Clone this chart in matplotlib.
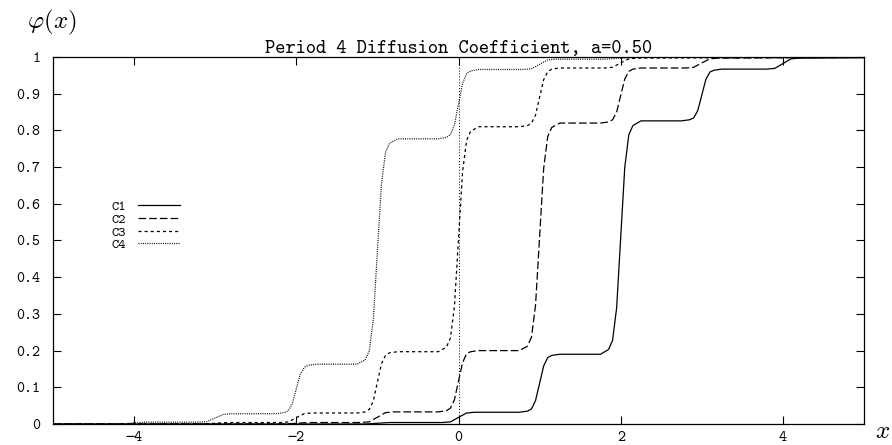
import matplotlib
matplotlib.use('Agg')
import matplotlib.pyplot as plt
from matplotlib.ticker import FormatStrFormatter, MultipleLocator

plt.rcParams['font.family'] = ['cmtt10', 'DejaVu Sans Mono']
plt.rcParams['mathtext.fontset'] = 'cm'
plt.rcParams['lines.scale_dashes'] = False
plt.rcParams['axes.formatter.use_mathtext'] = False

title = 'Period 4 Diffusion Coefficient, a=0.50'
labels = ['C1', 'C2', 'C3', 'C4']

# phi(x) for each diffusion coefficient
c1_x = [-5, -1.15, -1.0, -0.85, -0.2, -0.1, 0.0, 0.1, 0.2,
        0.75, 0.85, 0.9, 0.95, 1.0, 1.05, 1.1, 1.15, 1.25,
        1.75, 1.85, 1.9, 1.95, 2.0, 2.05, 2.1, 2.15, 2.25,
        2.75, 2.85, 2.9, 2.95, 3.0, 3.05, 3.1, 3.15, 3.25,
        3.8, 3.9, 4.0, 4.1, 4.2, 5]
c1_y = [0.0, 0.0, 0.002, 0.004, 0.004, 0.0057, 0.018, 0.030, 0.032,
        0.032, 0.035, 0.041, 0.064, 0.111, 0.158, 0.181, 0.187, 0.190,
        0.190, 0.203, 0.228, 0.317, 0.508, 0.699, 0.788, 0.813, 0.826,
        0.826, 0.829, 0.834, 0.854, 0.896, 0.939, 0.959, 0.964, 0.967,
        0.967, 0.969, 0.982, 0.995, 0.997, 0.998]

c2_x = [-5, -2.15, -2.0, -1.85, -1.2, -1.1, -1.0, -0.9, -0.8,
        -0.25, -0.15, -0.1, -0.05, 0.0, 0.05, 0.1, 0.15, 0.25,
        0.75, 0.85, 0.9, 0.95, 1.0, 1.05, 1.1, 1.15, 1.25,
        1.75, 1.85, 1.9, 1.95, 2.0, 2.05, 2.1, 2.15, 2.25,
        2.8, 2.9, 3.0, 3.1, 3.2, 5]
c2_y = [0.0, 0.0, 0.002, 0.004, 0.004, 0.006, 0.0185, 0.031, 0.033,
        0.033, 0.036, 0.043, 0.066, 0.117, 0.167, 0.192, 0.197, 0.200,
        0.200, 0.212, 0.237, 0.324, 0.510, 0.696, 0.783, 0.808, 0.820,
        0.820, 0.823, 0.829, 0.850, 0.895, 0.940, 0.961, 0.967, 0.970,
        0.970, 0.972, 0.984, 0.995, 0.997, 0.999]

c3_x = [-5, -3.15, -3.0, -2.85, -2.2, -2.1, -2.0, -1.9, -1.8,
        -1.25, -1.15, -1.1, -1.05, -1.0, -0.95, -0.9, -0.85, -0.75,
        -0.25, -0.15, -0.1, -0.05, 0.0, 0.05, 0.1, 0.15, 0.25,
        0.75, 0.85, 0.9, 0.95, 1.0, 1.05, 1.1, 1.15, 1.25,
        1.8, 1.9, 2.0, 2.1, 2.2, 5]
c3_y = [0.0, 0.0, 0.002, 0.004, 0.004, 0.0056, 0.017, 0.0285, 0.030,
        0.030, 0.033, 0.040, 0.063, 0.114, 0.164, 0.187, 0.194, 0.197,
        0.197, 0.209, 0.234, 0.320, 0.504, 0.687, 0.773, 0.798, 0.810,
        0.810, 0.813, 0.820, 0.842, 0.890, 0.938, 0.960, 0.967, 0.970,
        0.970, 0.972, 0.984, 0.995, 0.997, 0.999]

c4_x = [-5, -4.15, -4.0, -3.85, -3.2, -3.1, -3.0, -2.9, -2.8,
        -2.25, -2.15, -2.1, -2.05, -2.0, -1.95, -1.9, -1.85, -1.75,
        -1.25, -1.15, -1.1, -1.05, -1.0, -0.95, -0.9, -0.85, -0.75,
        -0.25, -0.15, -0.1, -0.05, 0.0, 0.05, 0.1, 0.15, 0.25,
        0.8, 0.9, 1.0, 1.1, 1.2, 1.8, 2.0, 2.2, 5]
c4_y = [0.0, 0.0, 0.003, 0.005, 0.005, 0.0065, 0.0165, 0.026, 0.028,
        0.028, 0.031, 0.036, 0.055, 0.096, 0.136, 0.155, 0.160, 0.163,
        0.163, 0.175, 0.200, 0.286, 0.470, 0.654, 0.740, 0.765, 0.777,
        0.777, 0.781, 0.788, 0.815, 0.872, 0.928, 0.955, 0.962, 0.966,
        0.966, 0.968, 0.980, 0.992, 0.994, 0.994, 0.997, 0.999, 0.999]

fig = plt.figure(figsize=(8.92, 4.45), dpi=100)
ax = fig.add_axes([53 / 892, 21 / 445, 811 / 892, 367 / 445])

lw = 0.9
ax.plot(c1_x, c1_y, color='black', lw=lw, label=labels[0])
ax.plot(c2_x, c2_y, color='black', lw=lw, dashes=(5.5, 2.2), label=labels[1])
ax.plot(c3_x, c3_y, color='black', lw=lw, dashes=(2.2, 2.2), label=labels[2])
ax.plot(c4_x, c4_y, color='black', lw=lw, dashes=(0.7, 0.9), label=labels[3])

# zero axis
ax.axvline(0, color='black', lw=0.7, dashes=(0.7, 1.4))

ax.set_xlim(-5, 5)
ax.set_ylim(0, 1)
ax.xaxis.set_major_locator(MultipleLocator(2))
ax.yaxis.set_major_locator(MultipleLocator(0.1))
ax.yaxis.set_major_formatter(FormatStrFormatter('%g'))
ax.tick_params(direction='in', length=6, width=0.8, labelsize=11,
               top=True, right=True)
ax.tick_params(axis='y', pad=9)
ax.tick_params(axis='x', pad=5)
for s in ax.spines.values():
    s.set_linewidth(0.9)

ax.set_title(title, fontsize=14, pad=3)

fig.text(27 / 892, 1 - 22 / 445, r'$\varphi(x)$', fontsize=18,
         va='center', ha='left')
fig.text(883 / 892, 1 - 433 / 445, r'$x$', fontsize=18,
         va='center', ha='center')

ax.legend(loc='upper left', bbox_to_anchor=(0.063, 0.628), frameon=False,
          markerfirst=False, fontsize=10, handlelength=3.0,
          handletextpad=0.9, labelspacing=0.0, borderpad=0)

fig.savefig('out.png', dpi=100)
